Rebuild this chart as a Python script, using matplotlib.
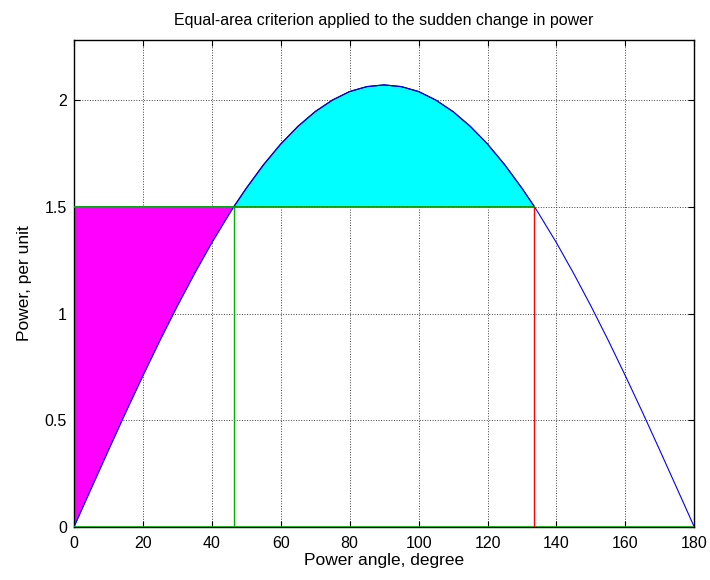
import numpy as np
import matplotlib
matplotlib.use('Agg')
import matplotlib.pyplot as plt

plt.rcParams['font.family'] = ['Liberation Sans', 'DejaVu Sans']

# power-angle curve, values (5 degree steps + crossing points)
delta = [0, 5, 10, 15, 20, 25, 30, 35, 40, 45, 46.4, 50, 55, 60, 65, 70, 75, 80, 85,
         90, 95, 100, 105, 110, 115, 120, 125, 130, 133.6, 135, 140, 145, 150, 155,
         160, 165, 170, 175, 180]
power = [0, 0.180, 0.359, 0.536, 0.708, 0.875, 1.035, 1.187, 1.331, 1.464, 1.5, 1.586,
         1.696, 1.793, 1.876, 1.945, 1.999, 2.039, 2.062, 2.07, 2.062, 2.039, 1.999,
         1.945, 1.876, 1.793, 1.696, 1.586, 1.5, 1.464, 1.331, 1.187, 1.035, 0.875,
         0.708, 0.536, 0.359, 0.180, 0]
p_mech = 1.5
delta0 = 0
delta1 = 46.4
delta_max = 133.6

d = np.array(delta)
p = np.array(power)

fig = plt.figure(figsize=(7.1, 5.8), dpi=100)
ax = fig.add_axes([0.104, 0.091, 0.874, 0.840])

# accelerating area
m = (d >= delta0) & (d <= delta1)
xa = np.concatenate([[delta0], d[m], [delta0]])
ya = np.concatenate([[p_mech], p[m], [p_mech]])
ax.fill(xa, ya, facecolor='#ff00ff', edgecolor='#008080', lw=0.8, zorder=2)

# decelerating area
m = (d >= delta1) & (d <= delta_max)
xd = np.concatenate([d[m], [delta1]])
yd = np.concatenate([p[m], [p_mech]])
ax.fill(xd, yd, facecolor='#00ffff', edgecolor='black', lw=0.8, zorder=2)

ax.plot(d, p, color='blue', lw=0.8, zorder=3)
ax.plot([delta0, delta_max], [p_mech, p_mech], color='#00b000', lw=1.2, zorder=4)
ax.plot([delta1, delta1], [0, p_mech], color='#00b000', lw=1.0, zorder=4)
ax.plot([0, 180], [0, 0], color='#00b000', lw=1.2, zorder=4)
ax.plot([delta_max, delta_max], [0, p_mech], color='red', lw=1.0, zorder=4)

ax.set_xlim(0, 180)
ax.set_ylim(0, 2.28)
ax.set_xticks(range(0, 181, 20))
ax.set_yticks([0, 0.5, 1, 1.5, 2])
ax.set_yticklabels(['0', '0.5', '1', '1.5', '2'])
ax.grid(True, color='#404040', linestyle=':', lw=0.7)
ax.set_axisbelow(True)
ax.tick_params(direction='in', top=True, right=True, labelsize=11.5, length=4)
ax.tick_params(axis='x', pad=6)
ax.tick_params(axis='y', pad=5)
for s in ax.spines.values():
    s.set_linewidth(1.0)

ax.set_title('Equal-area criterion applied to the sudden change in power',
             fontsize=11.5, pad=11)
ax.set_xlabel('Power angle, degree', fontsize=12.5, labelpad=2)
ax.set_ylabel('Power, per unit', fontsize=12.5, labelpad=9)

fig.savefig('out.png', dpi=100)
